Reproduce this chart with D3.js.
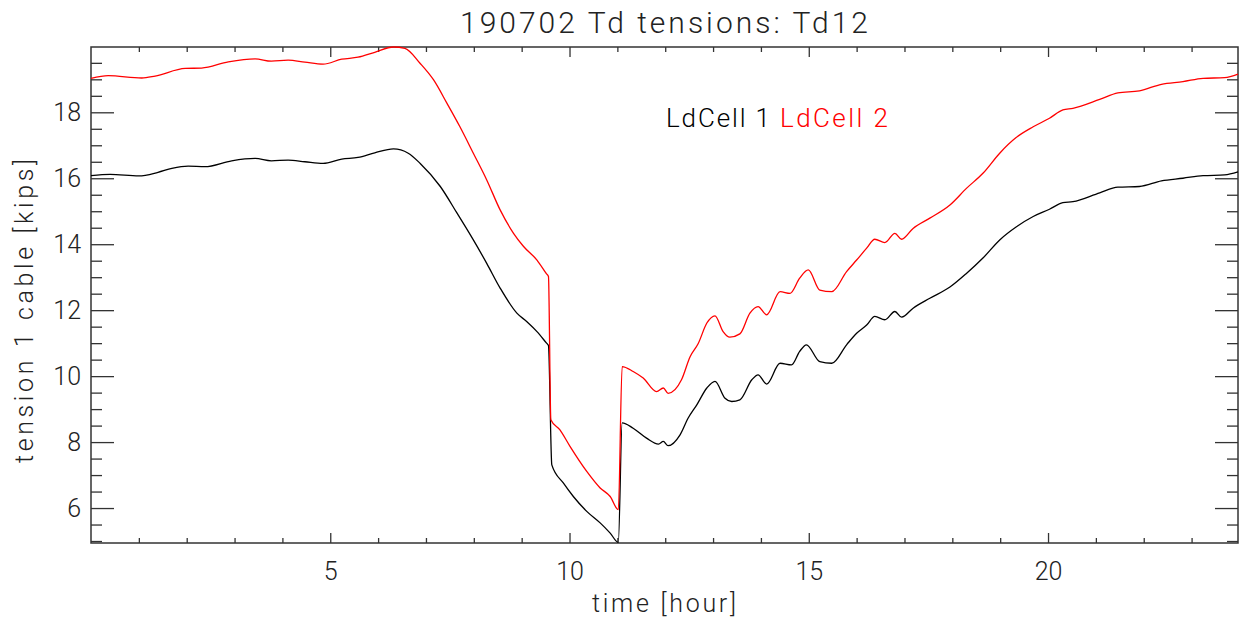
<!DOCTYPE html>
<html>
<head>
<meta charset="utf-8">
<script src="https://cdn.jsdelivr.net/npm/d3@7"></script>
<style>
  body { margin: 0; background: #fff; }
  svg { display: block; }
  text { font-family: Roboto, "Liberation Sans", sans-serif; font-weight: 300; fill: #222; }
  .axis path { display: none; }
  .axis line { stroke: #333; stroke-width: 1.3; }
  .axis text { font-size: 25px; fill: #222; }
</style>
</head>
<body>
<svg width="1247" height="624"></svg>
<script>
// data (hour, kips)
const ld1Hours = [0, 0.40, 1.00, 1.40, 1.69, 2.03, 2.38, 2.94, 3.43, 3.77, 4.12, 4.47, 4.85, 5.24, 5.58, 5.93, 6.32, 6.63, 6.88, 7.30,
  7.65, 7.99, 8.27, 8.55, 8.90, 9.11, 9.32, 9.52, 9.56, 9.63, 9.87, 10.08, 10.36, 10.64, 10.85, 11.02, 11.10, 11.33, 11.61, 11.86,
  11.96, 12.06, 12.31, 12.48, 12.66, 12.87, 13.04, 13.25, 13.39, 13.56, 13.81, 13.94, 14.12, 14.40, 14.64, 14.81, 14.95, 15.23, 15.48, 15.79,
  16.00, 16.21, 16.38, 16.59, 16.80, 16.94, 17.18, 17.53, 17.95, 18.30, 18.64, 18.99, 19.34, 19.69, 20.03, 20.31, 20.52, 21.08, 21.46, 21.91,
  22.37, 22.82, 23.24, 23.69, 23.97];
const ld1Kips = [16.08, 16.12, 16.07, 16.18, 16.30, 16.37, 16.35, 16.53, 16.60, 16.53, 16.55, 16.50, 16.45, 16.58, 16.63, 16.77, 16.89, 16.76, 16.45, 15.75,
  14.94, 14.13, 13.42, 12.67, 11.91, 11.65, 11.35, 11.00, 10.93, 7.31, 6.76, 6.35, 5.90, 5.55, 5.24, 4.96, 8.58, 8.42, 8.12, 7.94,
  8.02, 7.89, 8.22, 8.73, 9.13, 9.64, 9.84, 9.33, 9.23, 9.28, 9.89, 10.04, 9.76, 10.39, 10.34, 10.75, 10.95, 10.44, 10.39, 10.95,
  11.30, 11.55, 11.81, 11.71, 11.96, 11.79, 12.06, 12.36, 12.70, 13.12, 13.58, 14.13, 14.53, 14.84, 15.06, 15.26, 15.29, 15.56, 15.73, 15.75,
  15.92, 16.00, 16.08, 16.10, 16.19];

const ld2Hours = [0, 0.36, 1.06, 1.34, 1.97, 2.31, 2.87, 3.43, 3.77, 4.12, 4.47, 4.85, 5.24, 5.58, 5.93, 6.32, 6.56, 6.88, 7.16, 7.44,
  7.71, 7.99, 8.27, 8.55, 8.83, 9.04, 9.32, 9.52, 9.56, 9.61, 9.80, 10.01, 10.36, 10.64, 10.85, 11.02, 11.10, 11.33, 11.54, 11.82,
  11.96, 12.06, 12.34, 12.52, 12.69, 12.87, 13.04, 13.21, 13.35, 13.56, 13.77, 13.94, 14.12, 14.40, 14.61, 14.81, 14.99, 15.23, 15.48, 15.79,
  16.00, 16.21, 16.38, 16.59, 16.80, 16.94, 17.18, 17.53, 17.95, 18.30, 18.64, 18.99, 19.34, 19.69, 20.03, 20.31, 20.52, 21.08, 21.46, 21.91,
  22.37, 22.82, 23.24, 23.69, 23.97];
const ld2Kips = [19.03, 19.11, 19.04, 19.10, 19.33, 19.34, 19.53, 19.62, 19.55, 19.58, 19.52, 19.46, 19.61, 19.67, 19.82, 19.98, 19.94, 19.48, 18.98, 18.27,
  17.56, 16.76, 15.95, 15.04, 14.33, 13.93, 13.52, 13.10, 13.02, 8.68, 8.37, 7.87, 7.11, 6.61, 6.35, 5.95, 10.29, 10.14, 9.94, 9.53,
  9.64, 9.48, 9.89, 10.59, 10.99, 11.61, 11.83, 11.35, 11.18, 11.28, 11.91, 12.11, 11.86, 12.56, 12.51, 12.97, 13.22, 12.61, 12.56, 13.17,
  13.52, 13.88, 14.15, 14.05, 14.33, 14.15, 14.48, 14.79, 15.19, 15.70, 16.15, 16.76, 17.24, 17.56, 17.82, 18.07, 18.12, 18.39, 18.59, 18.65,
  18.85, 18.93, 19.03, 19.05, 19.16];

const xMajor = [5, 10, 15, 20];
const yMajor = [6, 8, 10, 12, 14, 16, 18];
const seriesNames = ["LdCell 1", "LdCell 2"];
const seriesColors = ["#000000", "#ff0000"];

const svg = d3.select("svg");
const margin = {top: 47, right: 9, bottom: 81, left: 91};
const width = 1247 - margin.left - margin.right;
const height = 624 - margin.top - margin.bottom;

const x = d3.scaleLinear().domain([0, 23.97]).range([0, width]);
const y = d3.scaleLinear().domain([4.94, 19.98]).range([height, 0]);

const g = svg.append("g")
  .attr("transform", `translate(${margin.left},${margin.top})`);

const xMinor = d3.range(1, 24).filter(d => d % 5 !== 0);
const yMinor = d3.range(5, 20.01, 0.5).filter(d => d % 2 !== 0);

// bottom + top axes (ticks point inward)
g.append("g").attr("class", "axis")
  .attr("transform", `translate(0,${height})`)
  .call(d3.axisBottom(x).tickValues(xMajor).tickSize(-10).tickPadding(19).tickFormat(d3.format("d")));
g.append("g").attr("class", "axis")
  .attr("transform", `translate(0,${height})`)
  .call(d3.axisBottom(x).tickValues(xMinor).tickSize(-5).tickFormat(""));
g.append("g").attr("class", "axis")
  .call(d3.axisTop(x).tickValues(xMajor).tickSize(-10).tickFormat(""));
g.append("g").attr("class", "axis")
  .call(d3.axisTop(x).tickValues(xMinor).tickSize(-5).tickFormat(""));

// left + right axes
g.append("g").attr("class", "axis")
  .call(d3.axisLeft(y).tickValues(yMajor).tickSize(-23).tickPadding(10).tickFormat(d3.format("d")));
g.append("g").attr("class", "axis")
  .call(d3.axisLeft(y).tickValues(yMinor).tickSize(-11).tickFormat(""));
g.append("g").attr("class", "axis")
  .attr("transform", `translate(${width},0)`)
  .call(d3.axisRight(y).tickValues(yMajor).tickSize(-23).tickFormat(""));
g.append("g").attr("class", "axis")
  .attr("transform", `translate(${width},0)`)
  .call(d3.axisRight(y).tickValues(yMinor).tickSize(-11).tickFormat(""));

// frame
g.append("rect")
  .attr("width", width)
  .attr("height", height)
  .attr("fill", "none")
  .attr("stroke", "#333")
  .attr("stroke-width", 1.5);

const line = d3.line()
  .x(d => x(d[0]))
  .y(d => y(d[1]))
  .curve(d3.curveMonotoneX);

const series = [
  ld1Hours.map((h, i) => [h, ld1Kips[i]]),
  ld2Hours.map((h, i) => [h, ld2Kips[i]])
];

g.selectAll(".series")
  .data(series)
  .enter().append("path")
  .attr("class", "series")
  .attr("d", line)
  .attr("fill", "none")
  .attr("stroke", (d, i) => seriesColors[i])
  .attr("stroke-width", 1.3);

// title
svg.append("text")
  .attr("x", 664)
  .attr("y", 33)
  .attr("text-anchor", "middle")
  .style("font-size", "30px")
  .attr("textLength", 408)
  .attr("lengthAdjust", "spacing")
  .text("190702 Td tensions: Td12");

// legend
svg.append("text")
  .attr("x", 666)
  .attr("y", 127)
  .style("font-size", "26px")
  .style("fill", seriesColors[0])
  .attr("textLength", 104)
  .attr("lengthAdjust", "spacing")
  .text(seriesNames[0]);
svg.append("text")
  .attr("x", 780)
  .attr("y", 127)
  .style("font-size", "26px")
  .style("fill", seriesColors[1])
  .attr("textLength", 108)
  .attr("lengthAdjust", "spacing")
  .text(seriesNames[1]);

// axis titles
svg.append("text")
  .attr("x", 664)
  .attr("y", 612)
  .attr("text-anchor", "middle")
  .style("font-size", "25px")
  .attr("textLength", 144)
  .attr("lengthAdjust", "spacing")
  .text("time [hour]");

svg.append("text")
  .attr("transform", "translate(33,311) rotate(-90)")
  .attr("text-anchor", "middle")
  .style("font-size", "25px")
  .attr("textLength", 304)
  .attr("lengthAdjust", "spacing")
  .text("tension 1 cable [kips]");
</script>
</body>
</html>
